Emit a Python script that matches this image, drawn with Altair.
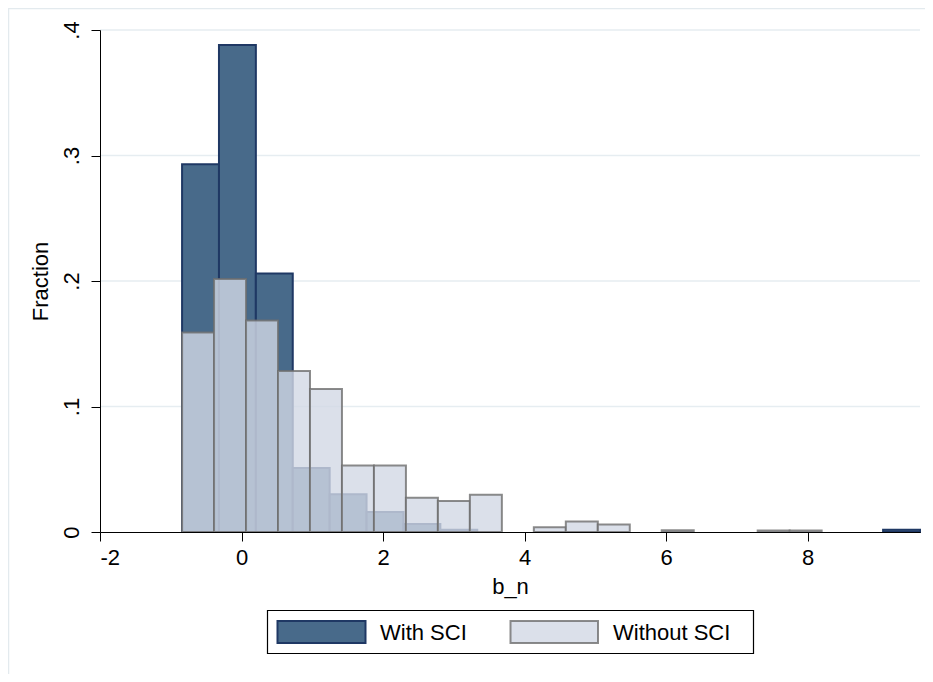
import altair as alt
import pandas as pd

# ---- data (fractions per bin, 20 bins each) ----
with_sci_min, with_sci_max = -0.84, 9.59
with_sci = [0.293, 0.388, 0.206, 0.051, 0.030, 0.016, 0.0063, 0.0018,
            0, 0, 0, 0, 0, 0, 0, 0, 0, 0, 0, 0.0018]

without_sci_min, without_sci_max = -0.84, 8.20
without_sci = [0.159, 0.2016, 0.1685, 0.1283, 0.114, 0.0529, 0.0529, 0.0272,
               0.0248, 0.0296, 0, 0.0037, 0.0084, 0.006, 0, 0.0014, 0, 0,
               0.0012, 0.0012]

x_ticks = [-2, 0, 2, 4, 6, 8]
y_ticks = [0, 0.1, 0.2, 0.3, 0.4]
legend_labels = ["With SCI", "Without SCI"]


def hist_frame(lo, hi, vals, group):
    n = len(vals)
    w = (hi - lo) / n
    rows = []
    for i, v in enumerate(vals):
        if v > 0:
            rows.append({"x0": lo + i * w, "x1": lo + (i + 1) * w,
                         "y": v, "y0": 0.0, "group": group})
    return pd.DataFrame(rows)


df_with = hist_frame(with_sci_min, with_sci_max, with_sci, legend_labels[0])
df_without = hist_frame(without_sci_min, without_sci_max, without_sci, legend_labels[1])
df_grid = pd.DataFrame({"y": [v for v in y_ticks if v > 0]})

FONT = "Liberation Sans"
DARK_FILL = "#486a8a"
DARK_STROKE = "#1f3864"
LIGHT_FILL = "#d2d8e5"
LIGHT_STROKE = "#6e6e6e"

W, H = 820, 502

xscale = alt.Scale(domain=[-2, with_sci_max], nice=False, zero=False)
yscale = alt.Scale(domain=[0, 0.4], nice=False)

xaxis = alt.Axis(values=x_ticks, title="b_n", grid=False, labelFontSize=22,
                 labelExpr="'' + datum.value",
                 titleFontSize=22, labelFont=FONT, titleFont=FONT,
                 titleFontWeight="normal", labelPadding=6, titlePadding=8,
                 tickSize=9, tickColor="black", domainColor="black",
                 labelColor="black", titleColor="black", zindex=1)
yaxis = alt.Axis(values=y_ticks, title="Fraction", grid=False,
                 labelExpr="datum.value == 0 ? '0' : replace(format(datum.value, '.1f'), '0.', '.')",
                 labelAngle=270, labelAlign="center", labelBaseline="alphabetic",
                 labelFontSize=22, titleFontSize=22, labelFont=FONT, titleFont=FONT,
                 titleFontWeight="normal", labelPadding=13, titlePadding=8,
                 tickSize=9, tickColor="black", domainColor="black",
                 labelColor="black", titleColor="black", zindex=1)

grid = alt.Chart(df_grid).mark_rule(color="#e6edf1", strokeWidth=1.5).encode(
    y=alt.Y("y:Q", scale=yscale, axis=yaxis),
)

dark = alt.Chart(df_with).mark_rect(
    fill=DARK_FILL, stroke=DARK_STROKE, strokeWidth=2
).encode(
    x=alt.X("x0:Q", scale=xscale, axis=xaxis),
    x2="x1:Q",
    y=alt.Y("y:Q", scale=yscale),
    y2="y0:Q",
)

light = alt.Chart(df_without).mark_rect(
    fill=LIGHT_FILL, fillOpacity=0.8, stroke=LIGHT_STROKE, strokeOpacity=0.8,
    strokeWidth=2
).encode(
    x=alt.X("x0:Q", scale=xscale),
    x2="x1:Q",
    y=alt.Y("y:Q", scale=yscale),
    y2="y0:Q",
)

one = pd.DataFrame({"a": [0]})

# outer graph-region frame (faint)
frame_left = alt.Chart(one).mark_rule(color="#e3eaee", strokeWidth=1.5).encode(
    x=alt.value(-91.5), y=alt.value(-21.5), y2=alt.value(700))
frame_top = alt.Chart(one).mark_rule(color="#e3eaee", strokeWidth=1.5).encode(
    x=alt.value(-92), x2=alt.value(830), y=alt.value(-21.5))

# legend
leg_box = alt.Chart(one).mark_rect(fill="white", stroke="black", strokeWidth=1.2).encode(
    x=alt.value(167.5), x2=alt.value(653.5), y=alt.value(580.5), y2=alt.value(623.5))
leg_dark = alt.Chart(one).mark_rect(fill=DARK_FILL, stroke=DARK_STROKE, strokeWidth=2).encode(
    x=alt.value(177.5), x2=alt.value(265.5), y=alt.value(591), y2=alt.value(613))
leg_light = alt.Chart(one).mark_rect(fill=LIGHT_FILL, fillOpacity=0.8, stroke=LIGHT_STROKE,
                                     strokeOpacity=0.8, strokeWidth=2).encode(
    x=alt.value(410.5), x2=alt.value(498), y=alt.value(591), y2=alt.value(613))
leg_text1 = alt.Chart(one).mark_text(align="left", baseline="alphabetic", fontSize=22,
                                     font=FONT, color="black").encode(
    x=alt.value(280), y=alt.value(610), text=alt.value(legend_labels[0]))
leg_text2 = alt.Chart(one).mark_text(align="left", baseline="alphabetic", fontSize=22,
                                     font=FONT, color="black").encode(
    x=alt.value(513), y=alt.value(610), text=alt.value(legend_labels[1]))

chart = alt.layer(
    frame_left, frame_top, grid, dark, light,
    leg_box, leg_dark, leg_light, leg_text1, leg_text2
).properties(
    width=W, height=H,
    autosize=alt.AutoSizeParams(type="none"),
    padding={"left": 92, "top": 22, "right": 5, "bottom": 142},
    background="white",
).configure_view(stroke=None)

chart.save("out.html", embed_options={"renderer": "svg", "actions": False})
